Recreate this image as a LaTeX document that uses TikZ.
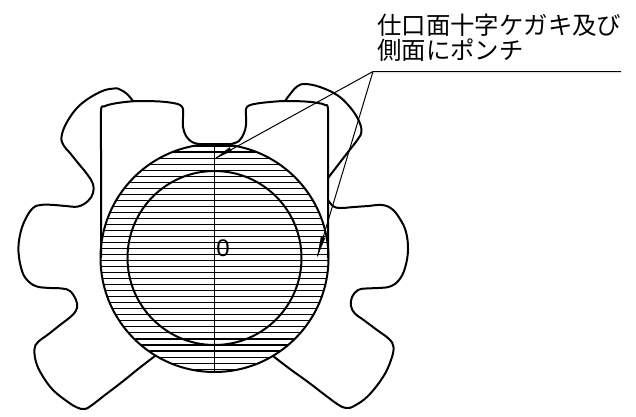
\documentclass[tikz,border=0pt]{standalone}
\usepackage{fontspec}
\setmainfont{Liberation Sans}
\newfontfamily\cjk{Noto Sans CJK JP}
\tikzset{
  heavy/.style={line width=2pt,line join=round,line cap=round},
  thin line/.style={line width=1pt},
  hatchline/.style={line width=1.1pt},
  tipmark/.style={fill=black,draw=black,line width=0.3pt},
  labeltext/.style={font=\cjk\fontsize{24.4}{25}\selectfont,anchor=west,inner sep=0pt,align=left}
}
\begin{document}
\begin{tikzpicture}[x=1pt,y=-1pt]
\useasboundingbox (0,0) rectangle (636,416);
\coordinate (c) at (214.5,258);
% hatching
\begin{scope}
\clip (c) circle (114);
\foreach \k in {0,...,37}{
  \draw[hatchline] (90,146+\k*6.03) -- (340,146+\k*6.03);
}
\end{scope}
% gear outline left
\draw[heavy] plot[smooth,tension=0.65] coordinates {(133,101) (127,94) (120,89.5) (114,88.5) (100,92) (80,105) (67,122) (61.5,137) (64,146) (70,153) (78,163) (87,174) (93,184) (93,193) (88,201) (78,206.5) (66,206) (54,205) (42,204.8) (33,208) (25,220) (20,235) (18.5,252) (22,271) (28,281) (37,286.5) (50,288) (62,288.5) (70,291) (76,300) (77,308) (72,315.5) (60,325) (48,334.5) (38,342) (34.5,349) (36,362) (42,375) (53,390) (68,402) (77,407.5) (84,409) (90,406.5) (105,395) (122,382) (140,367.5) (155,356)};
% gear outline right
\draw[heavy] plot[smooth,tension=0.65] coordinates {(273,356) (290,369) (308,382) (325,395) (338,404.5) (346,408) (354,406) (368,396) (383,377) (391,360) (393.5,347) (389,339) (377,330) (365,321) (355,313.5) (351,306) (352,297) (358,290) (366,288.5) (378,288) (390,286.5) (399,280) (405,268) (408,250) (406,232) (400,219) (392,209) (382,205) (368,206) (354,207) (340,208) (333,206) (328,200)};
\draw[heavy] plot[smooth,tension=0.65] coordinates {(328,178) (338,165) (348,152) (358,139) (361.5,131) (358,119) (349,106) (337,95) (320,87) (305,84) (297,86.5) (291,93) (285,101)};
% body
\draw[heavy] plot[smooth,tension=0.6] coordinates {(101,257) (101,200) (101,150) (101,111) (104,106.5) (112,104) (125,102) (140,101) (160,101.5) (173,103) (180,105) (183,109) (183,118) (183,127) (186,136) (192,142) (199,144)};
\draw[heavy] (199,144) -- (231,144);
\draw[heavy] plot[smooth,tension=0.6] coordinates {(231,144) (239,141) (244,133) (246,125) (246,116) (246,109) (249,105.5) (257,103.5) (270,102) (285,101) (305,101.5) (318,103) (325,105) (328,110) (328,150) (328,200) (328,257)};
% circles and centre line
\draw[heavy] (c) circle (114);
\draw[heavy] (c) circle (87);
\draw[thin line] (214.5,144) -- (214.5,372);
% leader
\coordinate (elbow) at (373,71.5);
\coordinate (free) at (621,71.5);
\coordinate (tipa) at (216,158);
\coordinate (tipb) at (317.5,256);
\draw[thin line] (free) -- (elbow) -- (tipa);
\draw[thin line] (elbow) -- (tipb);
\fill[tipmark] (216,158) -- (229.5,147.5) -- (231.5,151) -- cycle;
\fill[tipmark] (317.5,256) -- (321,237) -- (325,238) -- cycle;
% texts
\node[labeltext] (lab) at (377,37.5) {仕口面十字ケガキ及び\\側面にポンチ};
\node[inner sep=0pt,font=\fontsize{24}{24}\selectfont] (zero) at (223,248) {0};
\end{tikzpicture}
\end{document}
